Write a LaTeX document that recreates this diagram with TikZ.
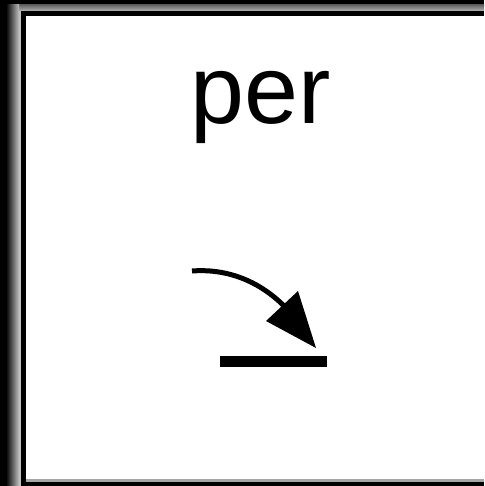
\documentclass[tikz,border=0pt]{standalone}
\usepackage{fontspec}
\setmainfont{Liberation Sans}
\begin{document}
\begin{tikzpicture}[x=1pt,y=-1pt]
\useasboundingbox (0,0) rectangle (484,486);
\fill[white] (0,0) rectangle (484,486);
% top border
\fill[black] (0,0) rectangle (484,5);
\shade[top color=black!60, bottom color=black!30] (0,5) rectangle (484,11);
\fill[black] (0,11) rectangle (484,16.5);
% bottom border
\fill[black!35] (0,479) rectangle (484,482);
\fill[black] (0,482) rectangle (484,486);
% left border
\fill[black] (0,0) rectangle (6,486);
\shade[left color=black, right color=black!25] (6,5) rectangle (19,486);
\fill[black!25] (19,11) rectangle (20.5,486);
\fill[black] (20.5,11) rectangle (25.5,482);
% text
\node[font=\fontsize{97}{100}\selectfont, anchor=base] (lbl) at (261,124) {per};
% arrow
\coordinate (s) at (192,271);
\coordinate (e) at (286,308);
\coordinate (tip) at (316,348);
\coordinate (b1) at (266,321);
\coordinate (b2) at (298,291);
\draw[line width=5pt] (s) .. controls (232,268) and (264,285) .. (e);
\fill (tip) -- (b1) -- (b2) -- cycle;
% bar
\fill (220,355.5) rectangle (327,366.5);
\end{tikzpicture}
\end{document}
